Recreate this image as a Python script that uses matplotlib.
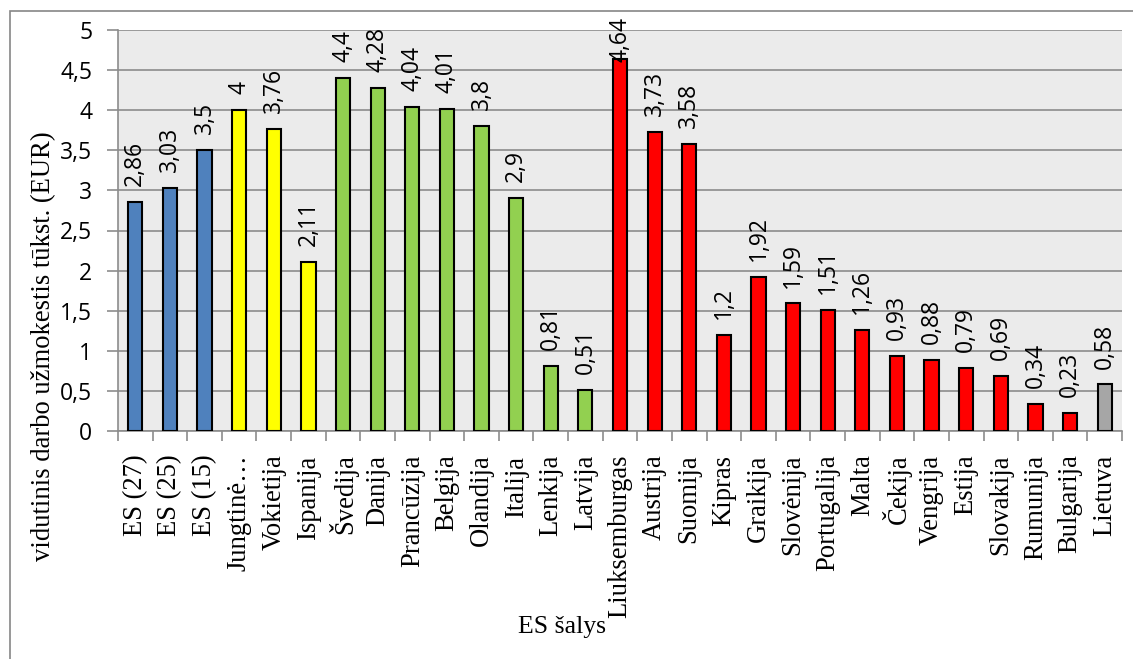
import matplotlib
matplotlib.use("Agg")
import matplotlib.pyplot as plt
from matplotlib.patches import Rectangle

categories = ["ES (27)", "ES (25)", "ES (15)", "Jungtinė…", "Vokietija", "Ispanija",
              "Švedija", "Danija", "Prancūzija", "Belgija", "Olandija", "Italija",
              "Lenkija", "Latvija", "Liuksemburgas", "Austrija", "Suomija", "Kipras",
              "Graikija", "Slovėnija", "Portugalija", "Malta", "Čekija", "Vengrija",
              "Estija", "Slovakija", "Rumunija", "Bulgarija", "Lietuva"]
values = [2.86, 3.03, 3.5, 4, 3.76, 2.11, 4.4, 4.28, 4.04, 4.01, 3.8, 2.9, 0.81, 0.51,
          4.64, 3.73, 3.58, 1.2, 1.92, 1.59, 1.51, 1.26, 0.93, 0.88, 0.79, 0.69, 0.34,
          0.23, 0.58]
groups = ["ES"] * 3 + ["G1"] * 3 + ["G2"] * 8 + ["G3"] * 14 + ["LT"]
group_colors = {"ES": "#4F81BD", "G1": "#FFFF00", "G2": "#92D050", "G3": "#FF0000", "LT": "#A6A6A6"}
yticks = [0, 0.5, 1, 1.5, 2, 2.5, 3, 3.5, 4, 4.5, 5]
ytick_labels = [f"{t:g}".replace(".", ",") for t in yticks]

W, H = 1133, 659
fig = plt.figure(figsize=(W / 100, H / 100), dpi=100)
fig.patch.set_facecolor("white")

left, right, top, bottom = 118, 1122, 30, 431
ax = fig.add_axes([left / W, 1 - bottom / H, (right - left) / W, (bottom - top) / H])
ax.set_facecolor("#EBEBEB")

x = list(range(len(categories)))
colors = [group_colors[g] for g in groups]
ax.bar(x, values, width=0.41, color=colors, edgecolor="black", linewidth=1.5, zorder=3)

ax.set_xlim(-0.5, len(categories) - 0.5)
ax.set_ylim(0, 5)
ax.set_yticks(yticks)
ax.set_yticklabels(ytick_labels, fontfamily="Open Sans", fontsize=16.5)
ax.yaxis.grid(True, color="#8C8C8C", linewidth=1.2, zorder=0)
ax.set_axisbelow(True)

ax.set_xticks(x)
ax.set_xticklabels(categories, rotation=90, fontfamily="Liberation Serif", fontsize=19.2,
                   va="top", ha="center")
ax.set_xticks([i - 0.5 for i in range(len(categories) + 1)], minor=True)
ax.tick_params(axis="x", which="major", length=0, pad=17)
ax.tick_params(axis="x", which="minor", length=7, width=1.2, color="#8C8C8C", direction="out")
ax.tick_params(axis="y", length=8, width=1.2, color="#8C8C8C", pad=10.5)

for s in ["top", "right"]:
    ax.spines[s].set_visible(False)
for s in ["left", "bottom"]:
    ax.spines[s].set_color("#8C8C8C")
    ax.spines[s].set_linewidth(1.2)

for xi, v in zip(x, values):
    lab = f"{v:g}".replace(".", ",")
    off = 11.5 if v < 4.5 else -2.5
    ax.annotate(lab, (xi, v), xytext=(0, off), textcoords="offset points",
                rotation=90, ha="center", va="bottom", fontfamily="Open Sans",
                fontsize=16.5, annotation_clip=False, zorder=4)

fig.text(44 / W, 1 - 346 / H, "vidutinis darbo užmokestis tūkst. (EUR)", rotation=90,
         ha="center", va="center", fontfamily="Liberation Serif", fontsize=19.2)
fig.text(562 / W, 1 - 627 / H, "ES šalys", ha="center", va="center",
         fontfamily="Liberation Serif", fontsize=18.5)

fig.add_artist(Rectangle((10 / W, -0.05), 1.2, 1.05 - 11 / H, transform=fig.transFigure,
                         fill=False, edgecolor="#868686", linewidth=1.2))

fig.savefig("out.png", dpi=100)
